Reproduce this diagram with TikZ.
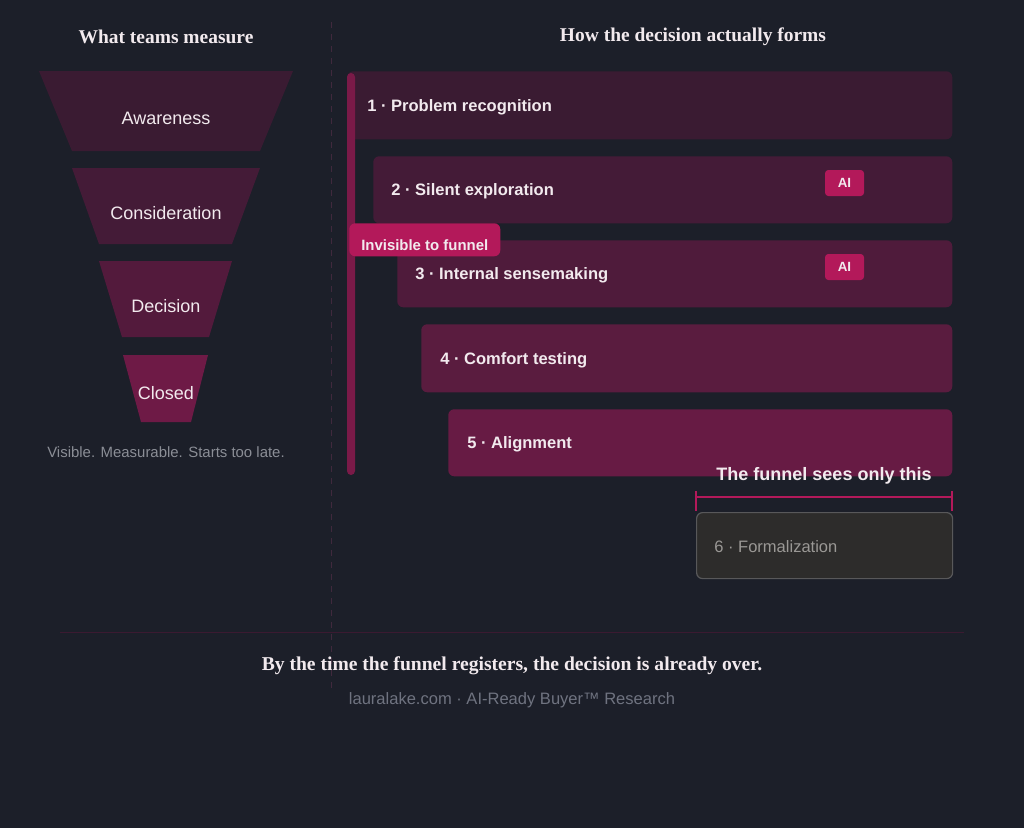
\documentclass[tikz,border=0pt]{standalone}
\usepackage{fontspec}
\setmainfont{Liberation Sans}
\newfontfamily\headserif{Liberation Serif}
\newcommand{\fsz}[1]{\fontsize{#1}{#1}\selectfont}
\definecolor{bg}{HTML}{1C1F29}
\definecolor{sA}{HTML}{3A1B32}
\definecolor{sB}{HTML}{441B37}
\definecolor{sC}{HTML}{4F1B3B}
\definecolor{sD}{HTML}{5A1C3F}
\definecolor{sE}{HTML}{671B44}
\definecolor{fDec}{HTML}{531A3C}
\definecolor{fClo}{HTML}{6E1A46}
\definecolor{accent}{HTML}{B3195A}
\definecolor{barcol}{HTML}{7A1A48}
\definecolor{txt}{HTML}{F2EAEE}
\definecolor{subgray}{HTML}{8B8E96}
\definecolor{footgray}{HTML}{6F7380}
\definecolor{formfill}{HTML}{2D2C2B}
\definecolor{formline}{HTML}{58585A}
\definecolor{formtxt}{HTML}{9A9895}
\definecolor{sepline}{HTML}{40293D}
\definecolor{hline}{HTML}{3B1A31}
\begin{document}
\begin{tikzpicture}[x=0.75pt,y=-0.75pt,
  stagebox/.style={rectangle,rounded corners=4.5pt,anchor=north west,inner sep=0pt},
  stagetxt/.style={anchor=west,text=txt,font=\fsz{12.4}\bfseries,inner sep=0pt},
  funtxt/.style={text=txt,font=\fsz{13.5},inner sep=0pt},
  badge/.style={rectangle,rounded corners=2.5pt,fill=accent,text=txt,font=\fsz{10}\bfseries,minimum width=39*0.75pt,minimum height=26*0.75pt,inner sep=0pt},
  head/.style={text=txt,font=\headserif\bfseries\fsz{14.6},inner sep=0pt}]
\useasboundingbox[fill=bg] (0,0) rectangle (1024,828);
% separators
\draw[sepline,line width=0.75pt,dash pattern=on 4.5pt off 4.5pt] (331,22) -- (331,692);
\draw[hline,line width=0.75pt] (60,632) -- (964,632);
% headers
\node[head] (h1) at (166,37) {What teams measure};
\node[head] (h2) at (693,37) {How the decision actually forms};
% funnel
\fill[sA] (39,71) -- (293,71) -- (260,151) -- (72,151) -- cycle;
\fill[sB] (72,168) -- (260,168) -- (232,244) -- (99,244) -- cycle;
\fill[fDec] (99,261) -- (232,261) -- (209,337) -- (122,337) -- cycle;
\fill[fClo] (123,355) -- (208,355) -- (191,422) -- (141,422) -- cycle;
\node[funtxt] (f1) at (166,118.5) {Awareness};
\node[funtxt] (f2) at (166,213.5) {Consideration};
\node[funtxt] (f3) at (166,306.5) {Decision};
\node[funtxt] (f4) at (166,393.5) {Closed};
\node[text=subgray,font=\fsz{11.2},inner sep=0pt] (vis) at (166,452.5) {Visible. Measurable. Starts too late.};
% stages
\node[stagebox,fill=sA,minimum width=605*0.75pt,minimum height=68*0.75pt] (b1) at (347,71) {};
\node[stagebox,fill=sB,minimum width=579*0.75pt,minimum height=67*0.75pt] (b2) at (373,156) {};
\node[stagebox,fill=sC,minimum width=555*0.75pt,minimum height=67*0.75pt] (b3) at (397,240) {};
\node[stagebox,fill=sD,minimum width=531*0.75pt,minimum height=68*0.75pt] (b4) at (421,324) {};
\node[stagebox,fill=sE,minimum width=504*0.75pt,minimum height=67*0.75pt] (b5) at (448,409) {};
\node[stagetxt] (t1) at (367,107) {1 · Problem recognition};
\node[stagetxt] (t2) at (391,191.5) {2 · Silent exploration};
\node[stagetxt] (t3) at (415,275.5) {3 · Internal sensemaking};
\node[stagetxt] (t4) at (440,360) {4 · Comfort testing};
\node[stagetxt] (t5) at (467,444.5) {5 · Alignment};
\node[badge] (ai1) at (844.5,183) {AI};
\node[badge] (ai2) at (844.5,267) {AI};
% left bar
\fill[barcol,rounded corners=3pt] (347,73) rectangle (355,475);
% invisible label
\node[rectangle,rounded corners=4.5pt,fill=accent,anchor=north west,minimum width=151*0.75pt,minimum height=33*0.75pt,inner sep=0pt] (inv) at (349,223) {};
\node[text=txt,font=\fsz{11.2}\bfseries,anchor=west,inner sep=0pt] (invt) at (361,245) {Invisible to funnel};
% bracket and formalization
\node[text=txt,font=\fsz{13.5}\bfseries,inner sep=0pt] (sees) at (824,476) {The funnel sees only this};
\coordinate (brL) at (696,497);
\coordinate (brR) at (952,497);
\draw[accent,line width=1.5pt] (brL) -- (brR);
\draw[accent,line width=1.5pt] (696,491) -- (696,511);
\draw[accent,line width=1.5pt] (952,491) -- (952,511);
\node[stagebox,fill=formfill,draw=formline,line width=0.9pt,minimum width=256*0.75pt,minimum height=66*0.75pt] (b6) at (696,512) {};
\node[anchor=west,text=formtxt,font=\fsz{12.4},inner sep=0pt] (t6) at (714,546.5) {6 · Formalization};
% footer
\node[text=txt,font=\headserif\bfseries\fsz{14.7},inner sep=0pt] (tag) at (512,666) {By the time the funnel registers, the decision is already over.};
\node[text=footgray,font=\fsz{12.4},inner sep=0pt] (foot) at (512,700) {lauralake.com · AI-Ready Buyer™ Research};
\end{tikzpicture}
\end{document}
